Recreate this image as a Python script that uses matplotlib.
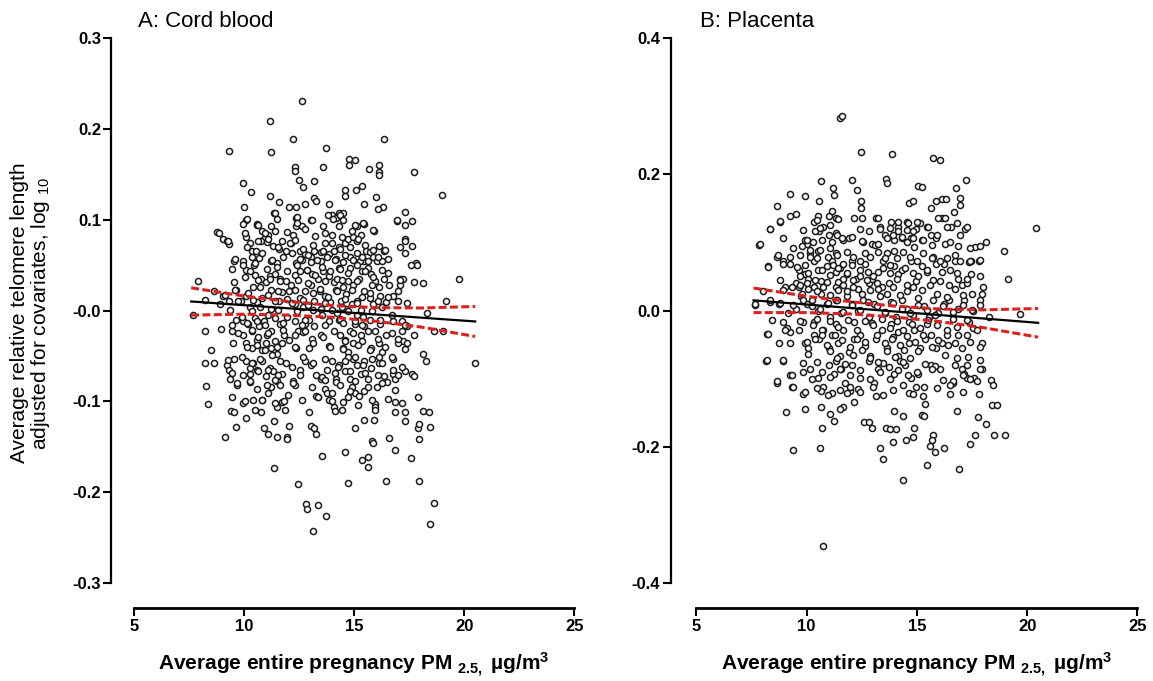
import numpy as np
import matplotlib.pyplot as plt

plt.rcParams['font.family'] = ['Liberation Sans', 'DejaVu Sans']
plt.rcParams['mathtext.fontset'] = 'custom'
plt.rcParams['mathtext.rm'] = 'Liberation Sans'
plt.rcParams['mathtext.bf'] = 'Liberation Sans:bold'
plt.rcParams['mathtext.it'] = 'Liberation Sans:italic'

# Panel A: cord blood (PM2.5, adjusted log10 telomere length)
cord_points = [
    (12.62, 0.231), (11.16, 0.209), (12.22, 0.189), (16.38, 0.189), (9.33, 0.176), (11.24, 0.174),
    (13.72, 0.179), (12.30, 0.158), (12.30, 0.154), (13.61, 0.158), (14.78, 0.167), (15.02, 0.166),
    (14.78, 0.160), (15.67, 0.156), (16.11, 0.160), (16.11, 0.152), (16.11, 0.149), (17.73, 0.152),
    (18.98, 0.127), (9.96, 0.140), (12.51, 0.144), (12.70, 0.136), (13.19, 0.143), (10.33, 0.130),
    (14.57, 0.133), (14.57, 0.126), (15.09, 0.133), (15.38, 0.137), (11.18, 0.126), (13.19, 0.124),
    (13.27, 0.121), (15.98, 0.125), (16.30, 0.114), (16.08, 0.112), (9.98, 0.114), (11.57, 0.119),
    (12.05, 0.114), (12.38, 0.114), (12.78, 0.117), (15.46, 0.117), (17.29, 0.108), (11.36, 0.107),
    (13.84, 0.117), (14.00, 0.105), (14.16, 0.102), (14.32, 0.107), (14.49, 0.107), (10.11, 0.100),
    (9.95, 0.095), (10.59, 0.095), (12.38, 0.102), (12.38, 0.093), (13.03, 0.100), (16.95, 0.098),
    (17.62, 0.098), (15.13, 0.093), (15.46, 0.095), (8.76, 0.086), (8.88, 0.085), (9.05, 0.079),
    (9.22, 0.076), (9.30, 0.073), (9.54, 0.055), (15.91, 0.088), (16.35, 0.066), (17.29, 0.079),
    (17.65, 0.071), (17.29, 0.063), (17.81, 0.052), (17.86, 0.050), (17.08, 0.035), (17.08, 0.028),
    (17.57, 0.050), (17.73, 0.031), (18.13, 0.030), (19.76, 0.035), (19.19, 0.011), (7.92, 0.032),
    (8.65, 0.022), (8.24, 0.012), (7.68, -0.005), (8.89, 0.007), (9.05, 0.016), (8.21, -0.022),
    (8.97, -0.020), (8.49, -0.043), (8.65, -0.058), (8.24, -0.058), (8.29, -0.083), (8.37, -0.103),
    (9.13, -0.139), (9.22, -0.060), (9.30, -0.065), (9.54, -0.053), (9.38, -0.075), (9.70, -0.082),
    (9.41, -0.110), (9.54, -0.112), (9.65, -0.128), (9.95, -0.102), (10.08, -0.118), (10.27, -0.070),
    (10.43, -0.098), (10.84, -0.098), (10.79, -0.112), (10.92, -0.129), (11.08, -0.136), (11.37, -0.121),
    (11.49, -0.139), (11.36, -0.173), (11.97, -0.139), (11.97, -0.141), (12.05, -0.127), (11.49, -0.106),
    (11.73, -0.101), (11.81, -0.099), (12.30, -0.082), (12.46, -0.191), (12.83, -0.213), (12.86, -0.218),
    (13.35, -0.214), (13.71, -0.226), (13.12, -0.243), (12.95, -0.112), (13.03, -0.127), (13.19, -0.129),
    (13.27, -0.136), (13.56, -0.160), (13.27, -0.094), (13.35, -0.095), (13.68, -0.086), (13.76, -0.091),
    (13.84, -0.098), (14.08, -0.106), (14.00, -0.091), (14.49, -0.101), (14.16, -0.075), (14.16, -0.079),
    (14.13, -0.110), (14.57, -0.156), (14.73, -0.190), (15.02, -0.129), (14.89, -0.084), (15.05, -0.091),
    (15.22, -0.094), (15.38, -0.164), (15.62, -0.161), (15.62, -0.172), (15.46, -0.120), (15.90, -0.120),
    (15.82, -0.144), (15.86, -0.146), (15.95, -0.103), (15.95, -0.106), (16.43, -0.188), (16.59, -0.140),
    (16.84, -0.153), (16.84, -0.112), (16.84, -0.101), (17.32, -0.112), (17.32, -0.121), (17.57, -0.162),
    (17.89, -0.129), (17.97, -0.125), (17.89, -0.095), (17.97, -0.141), (17.97, -0.187), (18.13, -0.110),
    (18.38, -0.112), (18.46, -0.128), (18.62, -0.212), (18.46, -0.235), (18.13, -0.048), (18.26, -0.055),
    (18.62, -0.022), (19.03, -0.022), (20.49, -0.058), (18.30, -0.003), (17.73, -0.027), (17.41, -0.017),
    (17.32, -0.067), (17.65, -0.070), (17.73, -0.072), (17.24, -0.034), (17.41, -0.036), (16.76, -0.053),
    (16.76, -0.070), (16.84, -0.075),
    # dense core, upper part
    (10.59, 0.094), (10.84, 0.088), (11.11, 0.083), (10.92, 0.079), (10.76, 0.076), (11.05, 0.075),
    (11.32, 0.071), (11.57, 0.068), (11.89, 0.065), (12.13, 0.074), (12.54, 0.065), (12.78, 0.062),
    (13.03, 0.059), (13.19, 0.066), (13.51, 0.064), (13.68, 0.074), (13.84, 0.062), (14.08, 0.066),
    (14.32, 0.070), (14.57, 0.074), (14.73, 0.079), (14.97, 0.081), (15.13, 0.076), (15.30, 0.083),
    (15.54, 0.066), (15.70, 0.064), (15.86, 0.059), (16.03, 0.055), (15.46, 0.054), (15.26, 0.054),
    (10.11, 0.081), (10.27, 0.074), (10.35, 0.066), (10.56, 0.065), (10.68, 0.058), (11.24, 0.054),
    (11.49, 0.052), (12.38, 0.052), (12.62, 0.056), (13.03, 0.053), (13.51, 0.055), (14.16, 0.057),
    (14.49, 0.053), (14.81, 0.059), (16.11, 0.071), (16.27, 0.054), (10.46, 0.050), (14.00, 0.083),
    (14.32, 0.093), (13.59, 0.093), (12.22, 0.083), (11.73, 0.076), (11.41, 0.088), (11.24, 0.093),
    (12.62, 0.093),
    (9.95, 0.054), (10.11, 0.045), (10.27, 0.043), (10.51, 0.039), (10.76, 0.035), (11.00, 0.031),
    (11.16, 0.038), (11.41, 0.040), (11.65, 0.035), (11.89, 0.033), (12.13, 0.028), (12.30, 0.039),
    (12.54, 0.043), (12.86, 0.045), (13.11, 0.040), (13.35, 0.035), (13.59, 0.043), (13.84, 0.038),
    (14.08, 0.031), (14.24, 0.035), (14.49, 0.026), (14.73, 0.033), (14.97, 0.028), (15.22, 0.035),
    (15.38, 0.043), (15.62, 0.047), (15.78, 0.040), (15.95, 0.033), (16.11, 0.026), (16.35, 0.035),
    (16.59, 0.028), (16.76, 0.016), (16.43, 0.009), (9.62, 0.023), (9.86, 0.011), (10.11, 0.016),
    (10.43, 0.026), (10.59, 0.009), (10.84, 0.014), (11.24, 0.023), (11.57, 0.011), (11.73, 0.020),
    (12.05, 0.022), (12.30, 0.007), (12.54, 0.014), (12.78, 0.021), (13.03, 0.028), (13.19, 0.011),
    (13.43, 0.022), (13.68, 0.016), (13.92, 0.009), (14.16, 0.023), (14.40, 0.011), (14.65, 0.018),
    (14.89, 0.007), (15.13, 0.011), (15.46, 0.022), (15.70, 0.014), (15.86, 0.007), (16.19, 0.016),
    (17.00, 0.011), (17.24, 0.035), (14.32, 0.047), (14.81, 0.047), (9.54, 0.031), (9.30, 0.011),
    (10.27, 0.004), (11.24, 0.002), (12.70, 0.004), (13.51, 0.002), (14.65, 0.002), (15.30, 0.001),
    # dense core, lower part
    (9.62, -0.010), (9.95, -0.012), (10.19, -0.015), (10.35, -0.022), (10.51, -0.008), (10.68, -0.017),
    (10.92, -0.012), (11.05, -0.027), (11.24, -0.022), (11.41, -0.008), (11.65, -0.015), (11.81, -0.027),
    (12.05, -0.032), (12.30, -0.012), (12.46, -0.022), (12.70, -0.024), (12.95, -0.010), (13.19, -0.017),
    (13.51, -0.027), (13.84, -0.012), (14.08, -0.022), (14.32, -0.010), (14.57, -0.032), (14.81, -0.022),
    (15.05, -0.015), (15.30, -0.027), (15.46, -0.017), (15.70, -0.010), (15.95, -0.022), (16.19, -0.015),
    (16.43, -0.027), (16.76, -0.012), (17.00, -0.036), (17.16, -0.022), (10.11, -0.036), (10.35, -0.041),
    (10.59, -0.032), (10.84, -0.043), (11.00, -0.036), (11.24, -0.041), (11.49, -0.048), (11.73, -0.036),
    (12.38, -0.041), (12.95, -0.041), (13.84, -0.039), (14.49, -0.041), (14.73, -0.046), (14.97, -0.036),
    (15.78, -0.041), (16.11, -0.036), (16.27, -0.046), (9.95, -0.027), (9.46, -0.022), (12.78, -0.015),
    (14.24, -0.003), (15.13, -0.005),
    (10.11, -0.055), (10.27, -0.063), (10.43, -0.058), (10.59, -0.065), (10.84, -0.055), (11.00, -0.072),
    (11.16, -0.063), (11.32, -0.067), (11.49, -0.077), (11.73, -0.070), (11.24, -0.084), (11.65, -0.082),
    (11.89, -0.058), (12.22, -0.077), (12.54, -0.065), (12.78, -0.055), (13.03, -0.060), (13.27, -0.071),
    (13.51, -0.075), (13.76, -0.065), (14.00, -0.055), (14.32, -0.060), (14.57, -0.067), (14.81, -0.075),
    (14.97, -0.053), (15.13, -0.060), (15.30, -0.070), (15.46, -0.055), (15.62, -0.075), (15.78, -0.063),
    (16.11, -0.058), (16.35, -0.072), (16.51, -0.079), (16.76, -0.065), (16.03, -0.084), (15.46, -0.089),
    (14.81, -0.089), (11.08, -0.091), (10.59, -0.086), (10.27, -0.079), (14.73, -0.051), (16.11, -0.051),
    # dense core, second close reading
    (10.12, 0.101), (10.65, 0.094), (11.41, 0.107), (11.48, 0.101), (12.39, 0.103), (12.39, 0.096),
    (13.07, 0.100), (13.83, 0.105), (14.06, 0.101), (14.36, 0.105), (14.51, 0.100), (15.04, 0.094),
    (15.42, 0.096), (15.87, 0.089), (16.93, 0.100), (17.31, 0.094), (9.29, 0.076), (10.05, 0.085),
    (10.95, 0.085), (11.94, 0.086), (12.77, 0.090), (13.22, 0.082), (13.68, 0.085), (14.44, 0.081),
    (14.89, 0.087), (15.19, 0.079),
    (10.12, 0.070), (10.65, 0.076), (11.10, 0.079), (11.56, 0.070), (12.09, 0.074), (12.32, 0.078),
    (12.69, 0.068), (13.15, 0.072), (13.60, 0.065), (13.98, 0.074), (14.36, 0.068), (14.81, 0.070),
    (15.12, 0.063), (15.49, 0.072), (15.87, 0.067), (16.40, 0.067), (17.08, 0.070), (17.31, 0.076),
    (9.59, 0.057), (10.35, 0.059), (10.80, 0.063), (11.26, 0.056), (11.79, 0.059), (12.16, 0.063),
    (12.54, 0.057), (12.92, 0.061), (13.30, 0.056), (13.75, 0.059), (14.13, 0.056), (14.59, 0.061),
    (14.97, 0.056), (15.34, 0.059), (15.65, 0.054), (16.10, 0.059), (16.55, 0.057),
    (9.44, 0.046), (9.97, 0.050), (10.50, 0.052), (11.03, 0.046), (11.48, 0.048), (11.94, 0.043),
    (12.39, 0.050), (12.85, 0.045), (13.22, 0.039), (13.53, 0.048), (13.91, 0.043), (14.36, 0.046),
    (14.74, 0.041), (15.12, 0.050), (15.49, 0.043), (15.87, 0.037), (16.25, 0.045), (16.55, 0.041),
    (17.08, 0.034), (10.05, 0.037), (10.65, 0.034), (11.18, 0.035), (11.63, 0.032), (12.47, 0.034),
    (12.92, 0.030), (13.68, 0.032), (14.44, 0.034), (15.12, 0.032), (15.80, 0.028),
    (9.14, 0.017), (9.59, 0.023), (10.20, 0.019), (10.73, 0.026), (11.10, 0.017), (11.56, 0.021),
    (11.94, 0.013), (12.32, 0.023), (12.69, 0.012), (13.15, 0.019), (13.45, 0.024), (13.83, 0.015),
    (14.21, 0.021), (14.59, 0.013), (14.89, 0.023), (15.34, 0.015), (15.72, 0.019), (16.10, 0.010),
    (16.55, 0.015), (17.01, 0.021), (17.39, 0.008), (9.74, 0.010), (10.42, 0.012), (11.41, 0.010),
    (12.16, 0.008), (12.92, 0.006), (13.68, 0.008), (14.44, 0.004), (15.12, 0.008), (16.25, 0.004),
    (9.36, 0.001), (9.89, -0.007), (10.35, -0.001), (10.73, 0.004), (11.10, -0.005), (11.56, 0.001),
    (11.94, -0.007), (12.39, -0.001), (12.77, -0.010), (13.15, 0.001), (13.53, -0.005), (13.98, 0.001),
    (14.36, -0.009), (14.74, -0.001), (15.04, -0.012), (15.42, -0.007), (15.80, -0.001), (16.18, -0.010),
    (16.71, -0.005), (17.16, -0.012), (9.44, -0.016), (10.12, -0.014), (10.57, -0.012), (10.95, -0.016),
    (11.79, -0.014), (12.62, -0.016), (13.68, -0.016), (14.51, -0.014), (15.34, -0.016), (17.31, -0.016),
    (9.74, -0.025), (10.35, -0.021), (10.65, -0.029), (11.10, -0.025), (11.41, -0.034), (11.79, -0.021),
    (12.32, -0.027), (12.77, -0.023), (13.07, -0.031), (13.60, -0.029), (14.36, -0.027), (14.59, -0.034),
    (14.97, -0.025), (15.34, -0.034), (15.65, -0.023), (16.10, -0.031), (16.71, -0.025), (17.01, -0.031),
    (9.52, -0.036), (10.12, -0.040), (10.57, -0.038), (10.95, -0.043), (11.48, -0.040), (12.32, -0.040),
    (13.15, -0.036), (13.91, -0.040), (14.51, -0.042), (15.19, -0.038), (15.72, -0.043), (16.40, -0.040),
    (17.31, -0.042),
    (9.29, -0.054), (9.89, -0.051), (10.35, -0.058), (10.73, -0.053), (11.26, -0.049), (11.63, -0.056),
    (12.16, -0.062), (12.69, -0.051), (13.15, -0.058), (13.68, -0.053), (14.28, -0.062), (14.59, -0.056),
    (15.04, -0.051), (15.42, -0.060), (15.80, -0.053), (16.25, -0.058), (16.71, -0.051), (17.16, -0.062),
    (9.44, -0.069), (9.97, -0.071), (10.65, -0.067), (11.10, -0.065), (11.56, -0.071), (12.54, -0.071),
    (13.53, -0.073), (14.13, -0.069), (14.81, -0.067), (15.49, -0.069), (16.10, -0.071), (17.01, -0.071),
    (9.67, -0.080), (10.27, -0.078), (11.03, -0.082), (11.41, -0.076), (12.24, -0.080), (13.07, -0.084),
    (13.68, -0.076), (14.36, -0.082), (15.04, -0.078), (15.65, -0.084), (16.25, -0.080), (16.86, -0.087),
    (9.44, -0.095), (10.05, -0.100), (10.80, -0.098), (11.41, -0.102), (12.01, -0.093), (12.62, -0.098),
    (13.38, -0.095), (13.98, -0.100), (14.74, -0.095), (15.19, -0.104), (15.80, -0.098), (16.55, -0.097),
    (17.16, -0.102), (10.50, -0.109), (11.86, -0.109), (14.44, -0.109), (15.95, -0.109),
]

# Panel B: placenta
placenta_points = [
    (11.53, 0.282), (11.63, 0.285), (12.49, 0.233), (13.86, 0.230), (15.72, 0.224), (16.05, 0.221),
    (13.62, 0.193), (13.65, 0.187), (17.21, 0.191), (12.08, 0.192), (10.67, 0.190), (9.26, 0.171),
    (9.95, 0.168), (11.20, 0.179), (11.25, 0.169), (12.27, 0.177), (15.06, 0.182), (15.22, 0.181),
    (16.76, 0.179), (16.96, 0.155), (10.58, 0.160), (12.49, 0.160), (12.49, 0.150), (14.64, 0.158),
    (14.81, 0.160), (15.64, 0.150), (15.89, 0.160), (16.14, 0.163), (16.33, 0.163), (8.65, 0.153),
    (8.81, 0.130), (9.23, 0.138), (9.54, 0.142), (8.35, 0.119), (7.85, 0.096), (7.65, 0.008),
    (8.26, 0.065), (8.23, -0.034), (8.18, -0.074), (8.65, -0.106), (9.09, -0.149), (9.39, -0.204),
    (10.62, -0.201), (10.75, -0.346), (10.70, -0.172), (11.08, -0.151), (11.25, -0.162), (10.67, -0.142),
    (9.26, -0.094), (9.34, -0.112), (8.93, -0.074), (9.84, -0.123), (9.92, -0.145), (11.66, -0.142),
    (11.53, -0.144), (11.99, -0.118), (12.16, -0.134), (12.62, -0.163), (12.85, -0.164), (12.99, -0.172),
    (13.32, -0.201), (13.48, -0.217), (13.62, -0.172), (13.78, -0.174), (14.06, -0.174), (13.90, -0.193),
    (13.95, -0.148), (14.38, -0.155), (14.51, -0.190), (14.84, -0.185), (14.86, -0.172), (14.36, -0.248),
    (15.39, -0.137), (15.22, -0.153), (15.31, -0.154), (15.72, -0.183), (15.67, -0.190), (15.60, -0.198),
    (15.84, -0.207), (16.22, -0.202), (15.47, -0.226), (16.91, -0.233), (17.43, -0.196), (17.63, -0.182),
    (16.80, -0.147), (16.50, -0.123), (16.63, -0.106), (17.79, -0.156), (18.12, -0.166), (18.49, -0.183),
    (18.99, -0.183), (18.42, -0.139), (18.62, -0.139), (18.37, -0.102), (18.45, -0.109), (17.84, -0.123),
    (17.29, -0.099), (17.59, -0.099), (17.96, -0.086), (17.96, -0.048), (18.95, 0.087), (19.12, 0.047),
    (18.12, 0.100), (20.41, 0.121), (19.70, -0.005), (18.29, -0.009), (17.87, 0.015), (17.96, 0.024),
    (17.63, 0.093), (17.83, 0.072), (17.38, 0.071), (17.46, 0.053), (17.18, 0.120), (16.96, 0.111),
    (16.55, 0.123), (16.68, 0.144), (16.96, 0.165),
    # dense core, first reading
    (10.34, 0.130), (10.50, 0.139), (10.58, 0.117), (10.75, 0.123), (11.00, 0.139), (11.16, 0.146),
    (11.33, 0.136), (11.00, 0.111), (11.33, 0.114), (11.66, 0.104), (11.91, 0.107), (12.16, 0.136),
    (12.41, 0.120), (12.57, 0.101), (12.82, 0.117), (13.15, 0.136), (13.32, 0.123), (13.57, 0.111),
    (13.82, 0.130), (13.98, 0.104), (14.15, 0.123), (14.31, 0.107), (14.56, 0.130), (14.73, 0.107),
    (14.98, 0.120), (15.22, 0.104), (15.47, 0.123), (15.64, 0.111), (15.89, 0.107), (16.14, 0.136),
    (16.30, 0.098), (16.38, 0.123), (15.14, 0.128), (14.89, 0.093), (13.98, 0.088), (13.65, 0.085),
    (12.99, 0.097), (12.66, 0.085), (10.50, 0.088), (10.17, 0.085), (10.00, 0.098), (9.92, 0.103),
    (11.33, 0.085),
    (8.68, 0.079), (8.93, 0.072), (9.26, 0.069), (9.67, 0.060), (9.92, 0.053), (10.09, 0.047),
    (10.34, 0.072), (10.50, 0.060), (10.67, 0.044), (10.92, 0.066), (11.16, 0.072), (11.33, 0.057),
    (11.50, 0.063), (11.66, 0.047), (11.83, 0.053), (12.08, 0.072), (12.24, 0.047), (12.41, 0.060),
    (12.66, 0.069), (12.82, 0.041), (12.99, 0.047), (13.24, 0.057), (13.48, 0.072), (13.73, 0.041),
    (13.98, 0.066), (14.15, 0.053), (14.31, 0.060), (14.56, 0.038), (14.73, 0.072), (14.98, 0.044),
    (15.22, 0.066), (15.47, 0.057), (15.72, 0.079), (15.89, 0.069), (16.05, 0.044), (16.22, 0.069),
    (16.47, 0.038), (16.71, 0.072), (16.88, 0.047), (17.05, 0.038), (17.29, 0.041), (17.46, 0.072),
    (9.51, 0.041), (9.01, 0.034), (9.67, 0.034), (10.34, 0.034), (11.33, 0.034), (12.32, 0.032),
    (8.35, 0.012), (8.76, 0.009), (9.18, -0.004), (9.51, 0.003), (9.76, 0.022), (10.00, 0.009),
    (10.25, 0.015), (10.50, -0.001), (10.67, 0.025), (10.92, 0.009), (11.08, -0.010), (11.33, 0.015),
    (11.58, -0.004), (11.83, 0.022), (12.08, 0.009), (12.32, -0.001), (12.57, 0.015), (12.82, -0.010),
    (13.07, 0.009), (13.32, 0.022), (13.57, -0.004), (13.82, 0.012), (14.06, -0.010), (14.31, 0.015),
    (14.56, 0.003), (14.81, -0.007), (15.06, 0.018), (15.31, 0.006), (15.56, -0.010), (15.72, 0.015),
    (15.97, -0.004), (16.22, 0.009), (16.47, 0.015), (16.63, -0.013), (16.88, 0.003), (17.13, 0.015),
    (17.38, -0.017), (17.54, -0.001), (8.93, -0.017), (9.84, -0.017), (10.34, -0.017), (11.33, -0.020),
    (12.16, -0.017), (12.99, -0.018), (13.82, -0.020), (14.64, -0.017), (15.47, -0.020),
    (9.26, -0.032), (9.67, -0.029), (9.92, -0.048), (10.09, -0.055), (10.34, -0.036), (10.58, -0.042),
    (10.75, -0.029), (11.00, -0.055), (11.16, -0.036), (11.41, -0.048), (11.66, -0.029), (11.91, -0.061),
    (12.16, -0.042), (12.41, -0.036), (12.66, -0.052), (12.90, -0.067), (13.15, -0.042), (13.40, -0.029),
    (13.65, -0.055), (13.90, -0.039), (14.15, -0.032), (14.40, -0.058), (14.64, -0.048), (14.89, -0.029),
    (15.14, -0.055), (15.39, -0.042), (15.64, -0.036), (15.89, -0.055), (16.14, -0.048), (16.38, -0.036),
    (16.71, -0.048), (17.05, -0.055), (17.29, -0.036), (17.54, -0.026), (8.76, -0.048), (14.15, -0.067),
    (11.50, -0.067),
    (9.84, -0.077), (10.17, -0.086), (10.50, -0.099), (10.75, -0.112), (11.00, -0.080), (11.25, -0.093),
    (11.33, -0.074), (11.58, -0.086), (11.74, -0.106), (12.08, -0.080), (12.41, -0.099), (12.82, -0.074),
    (13.07, -0.106), (13.24, -0.086), (13.48, -0.077), (13.73, -0.083), (13.98, -0.093), (14.23, -0.074),
    (14.48, -0.080), (14.73, -0.099), (15.06, -0.093), (15.31, -0.112), (15.64, -0.080), (16.05, -0.086),
    (16.71, -0.080), (17.05, -0.086), (17.26, -0.080), (10.67, -0.118), (11.16, -0.121), (11.83, -0.121),
    (12.32, -0.115), (13.15, -0.125), (14.64, -0.121), (14.98, -0.112), (17.13, -0.093),
    # dense core, second close reading
    (8.80, 0.131), (10.46, 0.133), (11.44, 0.134), (12.50, 0.136), (13.26, 0.135), (14.16, 0.130),
    (14.62, 0.129), (14.99, 0.130), (15.52, 0.123), (15.98, 0.135), (16.28, 0.136), (16.81, 0.128),
    (17.26, 0.123), (8.35, 0.120), (9.86, 0.118), (10.39, 0.116), (10.61, 0.121), (11.07, 0.125),
    (13.33, 0.120), (13.79, 0.121), (14.16, 0.117), (14.54, 0.118), (14.84, 0.117),
    (7.89, 0.097), (8.95, 0.106), (10.01, 0.103), (10.31, 0.101), (10.69, 0.103), (11.14, 0.101),
    (11.37, 0.111), (11.59, 0.106), (12.05, 0.108), (12.50, 0.102), (13.11, 0.096), (13.26, 0.097),
    (13.63, 0.106), (13.94, 0.111), (14.31, 0.108), (14.54, 0.101), (14.84, 0.106), (15.30, 0.103),
    (15.67, 0.096), (15.90, 0.111), (16.50, 0.101), (16.88, 0.094), (17.41, 0.091), (17.87, 0.094),
    (9.40, 0.091), (9.78, 0.094), (10.16, 0.089), (10.61, 0.089), (11.07, 0.091),
    (8.72, 0.081), (8.95, 0.069), (9.25, 0.079), (9.71, 0.081), (10.16, 0.079), (10.46, 0.077),
    (10.99, 0.079), (11.37, 0.081), (11.82, 0.086), (12.12, 0.079), (12.43, 0.072), (12.88, 0.079),
    (13.26, 0.086), (13.56, 0.077), (13.79, 0.067), (14.09, 0.077), (14.39, 0.086), (14.69, 0.079),
    (14.99, 0.072), (15.30, 0.084), (15.67, 0.077), (16.05, 0.072), (16.35, 0.077), (16.73, 0.081),
    (16.96, 0.072), (17.41, 0.072), (17.87, 0.074), (8.27, 0.064), (9.55, 0.064), (9.93, 0.067),
    (11.22, 0.067), (11.67, 0.069), (12.05, 0.067),
    (8.80, 0.045), (9.71, 0.050), (10.08, 0.055), (10.39, 0.045), (10.69, 0.059), (11.07, 0.052),
    (11.44, 0.062), (11.82, 0.055), (12.12, 0.045), (12.43, 0.050), (12.80, 0.057), (13.03, 0.050),
    (13.48, 0.062), (13.79, 0.055), (14.09, 0.047), (14.46, 0.062), (14.84, 0.055), (15.07, 0.050),
    (15.45, 0.059), (15.75, 0.045), (16.13, 0.057), (16.50, 0.059), (16.81, 0.055), (17.26, 0.047),
    (17.87, 0.050), (9.71, 0.037), (10.01, 0.040), (10.91, 0.042), (11.44, 0.042), (11.67, 0.037),
    (12.73, 0.045), (13.18, 0.040), (13.41, 0.035),
    (8.04, 0.028), (8.95, 0.030), (9.33, 0.035), (9.78, 0.025), (10.08, 0.032), (10.46, 0.028),
    (10.76, 0.035), (11.07, 0.023), (11.44, 0.030), (11.82, 0.028), (12.12, 0.035), (12.50, 0.025),
    (12.88, 0.030), (13.26, 0.032), (13.63, 0.025), (13.94, 0.035), (14.24, 0.023), (14.54, 0.028),
    (14.84, 0.035), (15.22, 0.030), (15.60, 0.037), (15.90, 0.025), (16.35, 0.020), (16.73, 0.032),
    (17.11, 0.023), (17.49, 0.025), (18.02, 0.035),
    (7.67, 0.009), (8.35, 0.015), (8.80, 0.011), (9.40, 0.008), (9.86, 0.015), (10.23, 0.006),
    (10.61, 0.003), (10.99, 0.011), (11.37, 0.015), (11.67, -0.002), (12.05, 0.008), (12.43, 0.001),
    (12.80, 0.013), (13.18, 0.006), (13.56, -0.002), (13.94, 0.011), (14.31, 0.003), (14.69, -0.004),
    (15.07, 0.008), (15.45, 0.001), (15.83, -0.007), (16.20, 0.006), (16.66, -0.002), (17.11, 0.008),
    (17.49, 0.001), (17.87, 0.008),
    (8.42, -0.014), (9.10, -0.026), (9.71, -0.016), (10.31, -0.021), (10.46, -0.012), (10.69, -0.029),
    (11.07, -0.016), (11.44, -0.024), (11.90, -0.014), (12.27, -0.029), (12.65, -0.016), (13.03, -0.021),
    (13.41, -0.012), (13.79, -0.026), (14.09, -0.016), (14.39, -0.029), (14.77, -0.019), (15.15, -0.026),
    (15.52, -0.014), (15.90, -0.021), (16.35, -0.029), (16.81, -0.024), (17.26, -0.014), (17.71, -0.029),
    (8.27, -0.034), (9.03, -0.029), (10.01, -0.046), (10.39, -0.041), (10.69, -0.036), (10.91, -0.051),
    (11.29, -0.036), (11.59, -0.043), (11.97, -0.053), (12.27, -0.041), (12.65, -0.046), (13.18, -0.036),
    (13.56, -0.048), (13.86, -0.041), (14.24, -0.051), (14.54, -0.038), (14.92, -0.046), (15.30, -0.036),
    (15.67, -0.053), (15.98, -0.043), (16.43, -0.051), (16.88, -0.036), (17.41, -0.046), (17.87, -0.053),
    (9.25, -0.048),
    (8.19, -0.073), (8.95, -0.073), (10.08, -0.063), (10.46, -0.075), (11.07, -0.060), (11.37, -0.070),
    (11.75, -0.078), (12.12, -0.065), (12.50, -0.058), (12.88, -0.070), (13.26, -0.075), (13.63, -0.060),
    (14.01, -0.068), (14.39, -0.075), (14.69, -0.070), (15.07, -0.060), (15.37, -0.078), (15.83, -0.082),
    (16.28, -0.065), (16.81, -0.070), (17.34, -0.068), (17.87, -0.073),
    (8.65, -0.104), (9.33, -0.095), (9.86, -0.090), (10.23, -0.100), (10.69, -0.090), (11.07, -0.097),
    (11.52, -0.085), (11.97, -0.095), (12.43, -0.087), (12.88, -0.100), (13.33, -0.090), (13.79, -0.100),
    (14.16, -0.087), (14.62, -0.095), (14.99, -0.090), (15.67, -0.085), (16.20, -0.102), (16.66, -0.104),
    (17.11, -0.095), (17.41, -0.100), (17.87, -0.085),
    (9.40, -0.112), (9.93, -0.119), (10.46, -0.114), (10.99, -0.124), (11.52, -0.117), (11.97, -0.112),
    (12.43, -0.119), (13.03, -0.112), (13.48, -0.124), (13.94, -0.117), (14.39, -0.109), (14.84, -0.122),
    (15.30, -0.126), (15.90, -0.114), (16.50, -0.109), (17.11, -0.119), (17.71, -0.104),
]

# regression line endpoints and 95% CI band
cord_fit_x = [7.6, 20.5]
cord_fit_y = [0.010, -0.012]
cord_ci_x = [7.6, 10, 12, 14, 16, 18, 20.5]
cord_ci_hi = [0.025, 0.016, 0.010, 0.0056, 0.0032, 0.0028, 0.0045]
cord_ci_lo = [-0.005, -0.004, -0.005, -0.0074, -0.0118, -0.018, -0.0285]

plac_fit_x = [7.6, 20.5]
plac_fit_y = [0.015, -0.018]
plac_ci_x = [7.6, 10, 12, 14, 16, 18, 20.5]
plac_ci_hi = [0.033, 0.021, 0.013, 0.0065, 0.0023, 0.001, 0.003]
plac_ci_lo = [-0.003, -0.003, -0.005, -0.0095, -0.016, -0.025, -0.039]

x_ticks = [5, 10, 15, 20, 25]
cord_yticks = [0.3, 0.2, 0.1, 0.0, -0.1, -0.2, -0.3]
cord_ylabels = ['0.3', '0.2', '0.1', '-0.0', '-0.1', '-0.2', '-0.3']
plac_yticks = [0.4, 0.2, 0.0, -0.2, -0.4]
plac_ylabels = ['0.4', '0.2', '0.0', '-0.2', '-0.4']

W, H = 1153, 681
fig = plt.figure(figsize=(W / 100, H / 100), dpi=100)
fig.patch.set_facecolor('white')

red = '#dc2020'


def make_panel(left_px, width_px, left_off, points, fit_x, fit_y, ci_x, ci_hi, ci_lo,
               yticks, ylabels, ylim, title, title_px):
    ax = fig.add_axes([left_px / W, 1 - 583.3 / H, width_px / W, 545.5 / H])
    pts = np.array(points)
    ax.scatter(pts[:, 0], pts[:, 1], s=19, facecolors='white', edgecolors='#1c1c1c',
               linewidths=1.1, zorder=2, clip_on=False)
    ax.plot(fit_x, fit_y, color='black', lw=1.6, zorder=3)
    ax.plot(ci_x, ci_hi, color=red, lw=2.2, ls=(0, (2.6, 1.1)), zorder=4)
    ax.plot(ci_x, ci_lo, color=red, lw=2.2, ls=(0, (2.6, 1.1)), zorder=4)

    ax.set_xlim(5, 25)
    ax.set_ylim(*ylim)
    for s in ['top', 'right']:
        ax.spines[s].set_visible(False)
    ax.spines['left'].set_position(('outward', left_off))
    ax.spines['bottom'].set_position(('outward', 17.5))
    ax.spines['left'].set_linewidth(1.6)
    ax.spines['bottom'].set_linewidth(2.0)
    ax.set_xticks(x_ticks)
    ax.set_xticklabels([str(t) for t in x_ticks])
    ax.set_yticks(yticks)
    ax.set_yticklabels(ylabels)
    ax.tick_params(axis='both', direction='out', length=5.5, width=1.5,
                   labelsize=12, pad=2)
    ax.tick_params(axis='x', pad=3)
    for lab in ax.get_xticklabels() + ax.get_yticklabels():
        lab.set_fontweight('bold')
    ax.patch.set_alpha(0)

    fig.text(title_px / W, 1 - 21.7 / H, title, fontsize=16, ha='left', va='center')
    fig.text((left_px + width_px / 2) / W, 1 - 665 / H,
             'Average entire pregnancy PM $_{\\mathbf{2.5,}}$ µg/m$^{\\mathbf{3}}$',
             fontsize=15, fontweight='bold', ha='center', va='center')
    return ax


make_panel(133.9, 440.4, 16.2, cord_points, cord_fit_x, cord_fit_y, cord_ci_x,
           cord_ci_hi, cord_ci_lo, cord_yticks, cord_ylabels, (-0.3, 0.3),
           'A: Cord blood', 137.5)
make_panel(696.2, 441.2, 18.4, placenta_points, plac_fit_x, plac_fit_y, plac_ci_x,
           plac_ci_hi, plac_ci_lo, plac_yticks, plac_ylabels, (-0.4, 0.4),
           'B: Placenta', 700)

fig.text(31 / W, 1 - 313 / H,
         'Average relative telomere length\nadjusted for covariates, log $_{10}$',
         fontsize=15, rotation=90, ha='center', va='center', linespacing=1.0)

fig.savefig('out.png', dpi=100)
